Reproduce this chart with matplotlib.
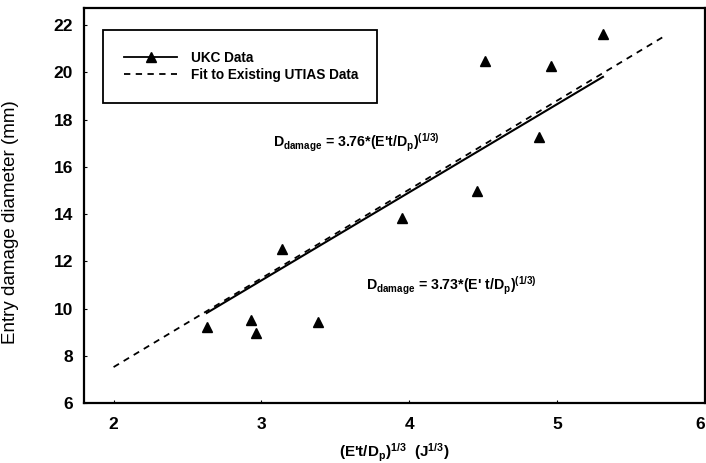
import matplotlib
matplotlib.use("Agg")
import matplotlib.pyplot as plt
from matplotlib.lines import Line2D

# ---- data ----
ukc_x = [2.63, 2.93, 2.96, 3.14, 3.38, 3.95, 4.46, 4.51, 4.88, 4.96, 5.31]
ukc_y = [9.23, 9.52, 8.98, 12.51, 9.42, 13.83, 14.98, 20.49, 17.27, 20.28, 21.64]

ukc_fit_coef = 3.73
ukc_fit_x = [2.63, 5.31]
utias_fit_coef = 3.76
utias_fit_x = [2.0, 5.72]

x_ticks = [2, 3, 4, 5, 6]
y_ticks = [6, 8, 10, 12, 14, 16, 18, 20, 22]

plt.rcParams['font.family'] = ['Liberation Sans', 'DejaVu Sans']
plt.rcParams['mathtext.fontset'] = 'custom'
plt.rcParams['mathtext.rm'] = 'Liberation Sans:bold'
plt.rcParams['mathtext.bf'] = 'Liberation Sans:bold'
plt.rcParams['mathtext.it'] = 'Liberation Sans:bold'

fig = plt.figure(figsize=(7.06, 4.63), dpi=100)
ax = fig.add_axes([84/706, 60/463, 621/706, 395/463])

ax.plot(utias_fit_x, [utias_fit_coef*v for v in utias_fit_x], color='black',
        lw=1.3, linestyle=(0, (3.5, 3.0)))
ax.plot(ukc_fit_x, [ukc_fit_coef*v for v in ukc_fit_x], color='black', lw=1.5)
ax.plot(ukc_x, ukc_y, linestyle='none', marker='^', color='black', markersize=6.5)

ax.set_xlim(1.80, 6.0)
ax.set_ylim(6.0, 22.72)
ax.set_xticks(x_ticks)
ax.set_yticks(y_ticks)
ax.tick_params(axis='both', length=2, direction='in', labelsize=12.5, width=0.8)
ax.tick_params(axis='x', pad=10)
ax.tick_params(axis='y', pad=8)
for lbl in ax.get_xticklabels() + ax.get_yticklabels():
    lbl.set_fontweight('bold')
ax.get_xticklabels()[-1].set_horizontalalignment('right')
for s in ax.spines.values():
    s.set_linewidth(1.6)

ax.set_ylabel('Entry damage diameter (mm)', fontsize=13.5)
ax.yaxis.set_label_coords(-0.105, 0.458)
ax.set_xlabel(r"(E't/D$_{\mathbf{p}}$)$^{\mathbf{1/3}}$  (J$^{\mathbf{1/3}}$)",
              fontsize=11, fontweight='bold', labelpad=7)

ann = [(273, 143, r"D$_{\mathbf{damage}}$ = 3.76*(E't/D$_{\mathbf{p}}$)$^{\mathbf{(1/3)}}$"),
       (366, 286, r"D$_{\mathbf{damage}}$ = 3.73*(E' t/D$_{\mathbf{p}}$)$^{\mathbf{(1/3)}}$")]
for px, py, s in ann:
    fig.text(px/706, 1 - py/463, s, fontsize=10.2, fontweight='bold',
             va='center', ha='left')

handles = [Line2D([0], [0], color='black', lw=1.3, marker='^', markersize=6.5),
           Line2D([0], [0], color='black', lw=1.3, linestyle=(0, (3.5, 3.0)))]
leg = ax.legend(handles, ['UKC Data', 'Fit to Existing UTIAS Data'],
                loc='upper left', bbox_to_anchor=(0.0306, 0.770, 0.442, 0.174),
                mode='expand', borderaxespad=0, fancybox=False, framealpha=1,
                edgecolor='black', handlelength=3.9, handletextpad=1.0,
                borderpad=1.55, labelspacing=0.2, prop={'weight': 'bold', 'size': 9.8})
leg.get_frame().set_linewidth(1.3)

fig.savefig('out.png', dpi=100)
